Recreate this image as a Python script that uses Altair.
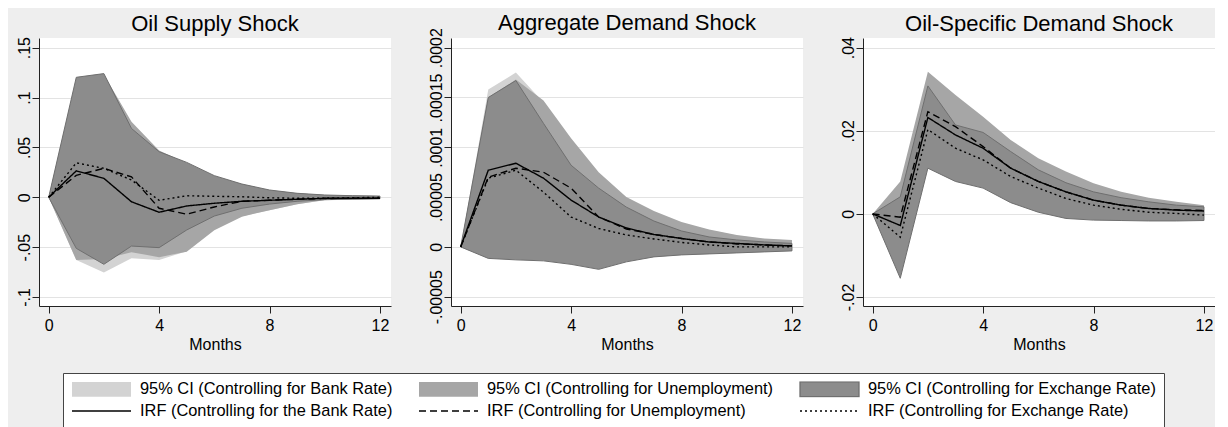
import altair as alt
import pandas as pd

MONTHS = list(range(13))
TITLES = ["Oil Supply Shock", "Aggregate Demand Shock", "Oil-Specific Demand Shock"]
CI_NAMES = ["95% CI (Controlling for Bank Rate)",
            "95% CI (Controlling for Unemployment)",
            "95% CI (Controlling for Exchange Rate)"]
IRF_NAMES = ["IRF (Controlling for the Bank Rate)",
             "IRF (Controlling for Unemployment)",
             "IRF (Controlling for Exchange Rate)"]

# ---------------- Panel 1: Oil Supply Shock ----------------
os_bank_lo = [0, -0.063, -0.0755, -0.061, -0.063, -0.054, -0.032, -0.019, -0.013, -0.007, -0.003, -0.0025, -0.0017]
os_bank_hi = [0, 0.117, 0.122, 0.074, 0.046, 0.033, 0.020, 0.012, 0.0065, 0.0038, 0.0022, 0.0016, 0.0012]
os_unemp_lo = [0, -0.063, -0.062, -0.055, -0.060, -0.0545, -0.033, -0.0194, -0.0129, -0.0069, -0.0028, -0.0025, -0.0017]
os_unemp_hi = [0, 0.118, 0.123, 0.0758, 0.047, 0.034, 0.021, 0.013, 0.007, 0.004, 0.0024, 0.0017, 0.0013]
os_exch_lo = [0, -0.0512, -0.0672, -0.0489, -0.0505, -0.0328, -0.0188, -0.011, -0.0068, -0.004, -0.0024, -0.0018, -0.0015]
os_exch_hi = [0, 0.1203, 0.124, 0.069, 0.0457, 0.035, 0.0217, 0.0133, 0.0073, 0.004, 0.0023, 0.0016, 0.0012]
os_irf_bank = [0, 0.0265, 0.019, -0.0045, -0.015, -0.0087, -0.006, -0.004, -0.003, -0.002, -0.001, -0.001, -0.001]
os_irf_unemp = [0, 0.022, 0.029, 0.0205, -0.011, -0.017, -0.0097, -0.004, -0.003, -0.002, -0.0012, -0.001, -0.001]
os_irf_exch = [0, 0.0345, 0.029, 0.0173, -0.003, 0.0015, 0.001, 0.0005, -0.0005, -0.001, -0.0008, -0.0005, 0]
os_ticks = [-0.1, -0.05, 0, 0.05, 0.1, 0.15]
os_domain = [-0.109, 0.1597]

# ---------------- Panel 2: Aggregate Demand Shock ----------------
ad_bank_lo = [0, -0.9e-5, -1.0e-5, -1.1e-5, -1.4e-5, -1.8e-5, -1.2e-5, -0.85e-5, -0.65e-5, -0.55e-5, -0.45e-5, -0.4e-5, -0.3e-5]
ad_bank_hi = [0, 15.8e-5, 17.5e-5, 14.5e-5, 10.7e-5, 7.3e-5, 4.9e-5, 3.5e-5, 2.4e-5, 1.7e-5, 1.15e-5, 0.8e-5, 0.65e-5]
ad_unemp_lo = [0, -1.0e-5, -1.1e-5, -1.2e-5, -1.5e-5, -1.9e-5, -1.3e-5, -0.9e-5, -0.7e-5, -0.6e-5, -0.5e-5, -0.45e-5, -0.35e-5]
ad_unemp_hi = [0, 15.0e-5, 16.8e-5, 14.7e-5, 10.9e-5, 7.5e-5, 5.0e-5, 3.6e-5, 2.5e-5, 1.75e-5, 1.2e-5, 0.85e-5, 0.7e-5]
ad_exch_lo = [0, -1.15e-5, -1.3e-5, -1.4e-5, -1.75e-5, -2.25e-5, -1.5e-5, -1.0e-5, -0.8e-5, -0.7e-5, -0.6e-5, -0.5e-5, -0.4e-5]
ad_exch_hi = [0, 15.0e-5, 16.7e-5, 12.4e-5, 8.2e-5, 5.9e-5, 4.0e-5, 2.6e-5, 1.6e-5, 1.0e-5, 0.7e-5, 0.5e-5, 0.35e-5]
ad_irf_bank = [0, 7.7e-5, 8.4e-5, 6.9e-5, 4.7e-5, 3.0e-5, 1.9e-5, 1.25e-5, 0.85e-5, 0.5e-5, 0.35e-5, 0.2e-5, 0.1e-5]
ad_irf_unemp = [0, 7.0e-5, 7.9e-5, 7.5e-5, 5.9e-5, 3.0e-5, 1.8e-5, 1.25e-5, 0.85e-5, 0.5e-5, 0.3e-5, 0.2e-5, 0.1e-5]
ad_irf_exch = [0, 6.9e-5, 7.7e-5, 5.5e-5, 3.0e-5, 1.85e-5, 1.2e-5, 0.8e-5, 0.45e-5, 0.2e-5, 0.0, 0.0, 0.0]
ad_ticks = [-0.00005, 0, 0.00005, 0.0001, 0.00015, 0.0002]
ad_domain = [-0.0000593, 0.0002097]

# ---------------- Panel 3: Oil-Specific Demand Shock ----------------
osd_bank_lo = [0, -0.013, 0.0115, 0.0085, 0.0068, 0.0033, 0.0009, -0.0007, -0.0012, -0.0013, -0.0014, -0.0014, -0.0013]
osd_bank_hi = [0, 0.0065, 0.032, 0.025, 0.021, 0.016, 0.012, 0.0088, 0.0064, 0.0046, 0.0034, 0.0025, 0.0019]
osd_unemp_lo = [0, -0.012, 0.012, 0.009, 0.0072, 0.0037, 0.0012, -0.0004, -0.0009, -0.001, -0.0011, -0.0011, -0.001]
osd_unemp_hi = [0, 0.0078, 0.0342, 0.0286, 0.0234, 0.0178, 0.0134, 0.0102, 0.0074, 0.0053, 0.0039, 0.0029, 0.0021]
osd_exch_lo = [0, -0.0155, 0.011, 0.0078, 0.0062, 0.0027, 0.0004, -0.0011, -0.0015, -0.0016, -0.0017, -0.0017, -0.0016]
osd_exch_hi = [0, 0.0041, 0.0308, 0.0214, 0.0196, 0.015, 0.0106, 0.0075, 0.0053, 0.0039, 0.0029, 0.0021, 0.0017]
osd_irf_bank = [0, -0.0028, 0.0232, 0.019, 0.0158, 0.011, 0.0078, 0.0053, 0.0033, 0.0021, 0.0013, 0.0009, 0.0007]
osd_irf_unemp = [0, -0.0008, 0.0246, 0.021, 0.0162, 0.011, 0.0078, 0.0053, 0.0033, 0.0021, 0.0013, 0.001, 0.0008]
osd_irf_exch = [0, -0.0056, 0.0203, 0.0158, 0.013, 0.009, 0.0062, 0.0037, 0.0021, 0.0011, 0.0004, 0.0001, -0.0003]
osd_ticks = [-0.02, 0, 0.02, 0.04]
osd_domain = [-0.02217, 0.04233]

X_TICKS = [0, 4, 8, 12]
X_DOMAIN = [-0.35, 12.4]

FONT = "Liberation Sans"
CI_COLORS = ["#d3d3d3", "#a6a6a6", "#8c8c8c"]
BG = "#eeeeee"

fill_scale = alt.Scale(domain=CI_NAMES + IRF_NAMES,
                       range=CI_COLORS + ["#ffffff", "#ffffff", "#ffffff"])
dash_scale = alt.Scale(domain=IRF_NAMES, range=[[1, 0], [7, 4], [2, 3]])

RECT = "M-1,-0.25L1,-0.25L1,0.25L-1,0.25Z"
legend = alt.Legend(
    title=None, orient="none", legendX=24, legendY=335,
    direction="horizontal", columns=3,
    symbolType={"expr": f"indexof(datum.value, '95%') == 0 ? '{RECT}' : 'stroke'"},
    symbolSize=3481, clipHeight=16,
    symbolStrokeColor={"expr": "indexof(datum.value, '95%') == 0 ? (indexof(datum.value, 'Exchange') > 0 ? '#6f6f6f' : 'transparent') : 'black'"},
    symbolDash={"expr": f"datum.value == '{IRF_NAMES[1]}' ? [7, 4] : (datum.value == '{IRF_NAMES[2]}' ? [2, 3] : [])"},
    symbolStrokeWidth=1.3,
    symbolOpacity=1,
    labelFont=FONT, labelFontSize=16.4, labelColor="black", labelOffset=8, labelLimit=600,
    columnPadding=25, rowPadding=5, padding=8,
    strokeColor="#444444", fillColor="white",
)

LABEL_EXPR = "(datum.value < 0 ? '-' : '') + replace(format(abs(datum.value), '~g'), '0.', '.')"


def make_panel(title, title_offset, lo, hi, irf, ticks, domain):
    xenc = dict(
        scale=alt.Scale(domain=X_DOMAIN, nice=False, zero=False),
        axis=alt.Axis(values=X_TICKS, title="Months", grid=False, format="d",
                      labelFlush=False, labelOverlap=False, tickSize=7, labelPadding=4,
                      titlePadding=3),
    )
    yscale = alt.Scale(domain=domain, nice=False, zero=False)
    yaxis = alt.Axis(values=ticks, labelExpr=LABEL_EXPR, title=None, grid=True,
                     labelAngle=270, labelAlign="center", labelBaseline="alphabetic",
                     labelFontSize=16, labelPadding=3, tickSize=7, labelOverlap=False,
                     labelFlush=False, minExtent=30, maxExtent=30)
    layers = []
    for k in range(3):
        df = pd.DataFrame({"month": MONTHS, "lo": lo[k], "hi": hi[k], "series": CI_NAMES[k]})
        kw = {"stroke": "#6f6f6f", "strokeWidth": 1} if k == 2 else {}
        layers.append(
            alt.Chart(df).mark_area(**kw).encode(
                x=alt.X("month:Q", **xenc),
                y=alt.Y("lo:Q", scale=yscale, axis=yaxis),
                y2="hi:Q",
                fill=alt.Fill("series:N", scale=fill_scale, legend=legend),
            )
        )
    for k in range(3):
        df = pd.DataFrame({"month": MONTHS, "v": irf[k], "series": IRF_NAMES[k]})
        layers.append(
            alt.Chart(df).mark_line(color="black", strokeWidth=1.4).encode(
                x=alt.X("month:Q", **xenc),
                y=alt.Y("v:Q", scale=yscale, axis=yaxis),
                strokeDash=alt.StrokeDash("series:N", scale=dash_scale, legend=None),
            )
        )
    return alt.layer(*layers).properties(
        width=352, height=268,
        title=alt.TitleParams(title, offset=title_offset),
    )


p1 = make_panel(TITLES[0], 1,
                [os_bank_lo, os_unemp_lo, os_exch_lo], [os_bank_hi, os_unemp_hi, os_exch_hi],
                [os_irf_bank, os_irf_unemp, os_irf_exch], os_ticks, os_domain)
p2 = make_panel(TITLES[1], -7,
                [ad_bank_lo, ad_unemp_lo, ad_exch_lo], [ad_bank_hi, ad_unemp_hi, ad_exch_hi],
                [ad_irf_bank, ad_irf_unemp, ad_irf_exch], ad_ticks, ad_domain)
p3 = make_panel(TITLES[2], 1,
                [osd_bank_lo, osd_unemp_lo, osd_exch_lo], [osd_bank_hi, osd_unemp_hi, osd_exch_hi],
                [osd_irf_bank, osd_irf_unemp, osd_irf_exch], osd_ticks, osd_domain)

chart = (
    alt.hconcat(p1, p2, p3, spacing=30)
    .resolve_scale(x="independent", y="independent")
    .properties(background=BG, padding={"left": 1, "top": 3, "right": 0, "bottom": 2})
    .configure_view(fill="white", stroke=None)
    .configure_axis(labelFont=FONT, titleFont=FONT, labelColor="black", titleColor="black",
                    labelFontSize=16, titleFontSize=16, titleFontWeight="normal",
                    domainColor="#222222", tickColor="#222222", domainWidth=1, tickWidth=1,
                    gridColor="#e3e3e3", gridWidth=1)
    .configure_title(font=FONT, fontSize=22, fontWeight="normal", color="black",
                     anchor="middle", frame="group", baseline="alphabetic")
)

chart.save("out.html", embed_options={"renderer": "svg", "actions": False})
